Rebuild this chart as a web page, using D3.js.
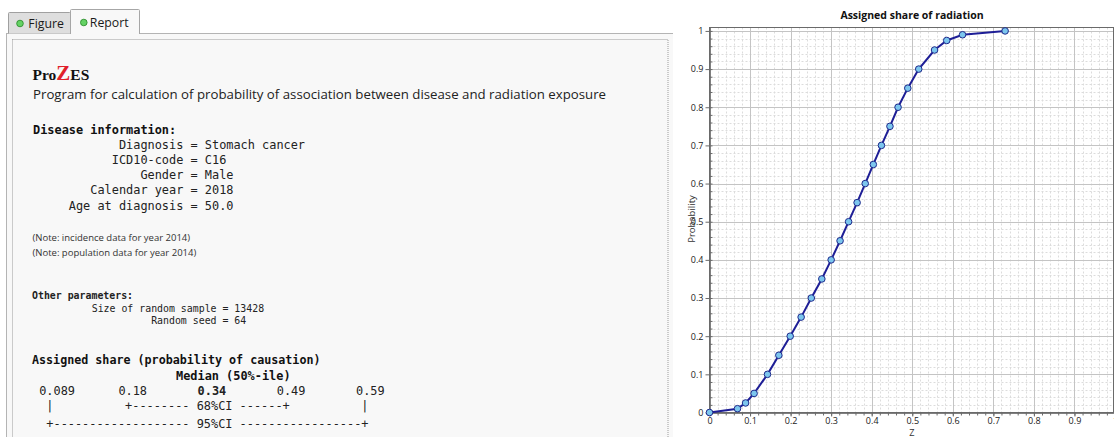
<!DOCTYPE html>
<html>
<head>
<meta charset="utf-8">
<script src="https://cdn.jsdelivr.net/npm/d3@7"></script>
<style>
html, body { margin: 0; padding: 0; background: #fff; overflow: hidden; }
svg { display: block; }
text { white-space: pre; }
</style>
</head>
<body>
<svg id="view" width="1114" height="437"></svg>
<script>
// ---- data ----
var tabNames = ["Figure", "Report"];

var diseaseFields = ["Diagnosis", "ICD10-code", "Gender", "Calendar year", "Age at diagnosis"];
var diseaseValues = ["Stomach cancer", "C16", "Male", "2018", "50.0"];
var notes = ["(Note: incidence data for year 2014)", "(Note: population data for year 2014)"];
var otherFields = ["Size of random sample", "Random seed"];
var otherValues = ["13428", "64"];

var shareLabels = ["0.089", "0.18", "0.34", "0.49", "0.59"];

// cumulative distribution of assigned share (Z)
var probLevels = [0, 0.01, 0.025, 0.05, 0.1, 0.15, 0.2, 0.25, 0.3, 0.35, 0.4, 0.45, 0.5,
                  0.55, 0.6, 0.65, 0.7, 0.75, 0.8, 0.85, 0.9, 0.95, 0.975, 0.99, 1.0];
var zValues = [0, 0.069, 0.089, 0.110, 0.143, 0.171, 0.199, 0.226, 0.251, 0.277, 0.300, 0.322, 0.343,
               0.364, 0.384, 0.404, 0.424, 0.445, 0.465, 0.489, 0.516, 0.555, 0.585, 0.624, 0.729];

var UI_FONT = "'Open Sans', 'Noto Sans', sans-serif";
var MONO = "'DejaVu Sans Mono', 'Liberation Mono', monospace";

var svg = d3.select("#view");

// ---- left: report panel ----
var panel = svg.append("g");

panel.append("rect")
	.attr("x", 6).attr("y", 33).attr("width", 667).attr("height", 410)
	.attr("fill", "#f8f8f8");
panel.append("line")
	.attr("x1", 6).attr("x2", 673).attr("y1", 33.5).attr("y2", 33.5)
	.attr("stroke", "#b4b4b4");
panel.append("line")
	.attr("x1", 6.5).attr("x2", 6.5).attr("y1", 33).attr("y2", 437)
	.attr("stroke", "#b4b4b4");
panel.append("rect")
	.attr("x", 12.5).attr("y", 39.5).attr("width", 655.5).attr("height", 420)
	.attr("fill", "none").attr("stroke", "#9c9c9c")
	.attr("stroke-dasharray", "1,1");

// tabs
var tabX = [8.5, 70.5], tabW = [62, 69];
tabNames.forEach(function (name, i) {
	var active = (name === "Report");
	var top = active ? 9.5 : 12.5;
	var g = svg.append("g");
	g.append("path")
		.attr("d", "M" + tabX[i] + "," + (active ? 34 : 33.5) + "V" + (top + 1) +
			"Q" + tabX[i] + "," + top + " " + (tabX[i] + 1) + "," + top +
			"H" + (tabX[i] + tabW[i] - 1) +
			"Q" + (tabX[i] + tabW[i]) + "," + top + " " + (tabX[i] + tabW[i]) + "," + (top + 1) +
			"V" + (active ? 34 : 33.5))
		.attr("fill", active ? "#f8f8f8" : "#dedede")
		.attr("stroke", active ? "#a6a6a6" : "#a0a0a0");
	g.append("circle")
		.attr("cx", tabX[i] + (active ? 13.3 : 11.5))
		.attr("cy", active ? 22.5 : 23.5)
		.attr("r", 3.3)
		.attr("fill", "#64d264").attr("stroke", "#2f8f2f").attr("stroke-width", 0.9);
	g.append("text")
		.attr("x", tabX[i] + (active ? 19.3 : 19.8))
		.attr("y", active ? 27 : 28.3)
		.attr("font-family", UI_FONT).attr("font-size", 12.3)
		.attr("fill", "#1a1a1a")
		.text(name);
});

// title block
var brand = panel.append("text")
	.attr("x", 32.5).attr("y", 80)
	.attr("font-family", "'Liberation Serif', 'DejaVu Serif', serif")
	.attr("font-weight", "bold").attr("font-size", 15.5).attr("fill", "#111");
brand.append("tspan").text("Pro");
brand.append("tspan").attr("fill", "#e0202a").attr("font-size", 21).text("Z");
brand.append("tspan").text("ES");

panel.append("text")
	.attr("x", 33).attr("y", 99)
	.attr("font-family", UI_FONT).attr("font-size", 13).attr("fill", "#222")
	.attr("textLength", 573).attr("lengthAdjust", "spacingAndGlyphs")
	.text("Program for calculation of probability of association between disease and radiation exposure");

// disease information
panel.append("text")
	.attr("x", 33).attr("y", 134)
	.attr("font-family", MONO).attr("font-size", 11.9).attr("font-weight", "bold").attr("fill", "#111")
	.text("Disease information:");

panel.selectAll("text.dis")
	.data(diseaseFields)
	.enter().append("text")
	.attr("class", "dis")
	.attr("x", 33)
	.attr("y", function (d, i) { return 148.5 + i * 15.3; })
	.attr("font-family", MONO).attr("font-size", 11.9).attr("fill", "#222")
	.text(function (d, i) { return d.padStart(21) + " = " + diseaseValues[i]; });

panel.selectAll("text.note")
	.data(notes)
	.enter().append("text")
	.attr("class", "note")
	.attr("x", 32.5)
	.attr("y", function (d, i) { return 240.5 + i * 15; })
	.attr("font-family", UI_FONT).attr("font-size", 9.5).attr("fill", "#333")
	.text(function (d) { return d; });

// other parameters
panel.append("text")
	.attr("x", 32).attr("y", 299)
	.attr("font-family", MONO).attr("font-size", 9.9).attr("font-weight", "bold").attr("fill", "#222")
	.text("Other parameters:");

panel.selectAll("text.oth")
	.data(otherFields)
	.enter().append("text")
	.attr("class", "oth")
	.attr("x", 91.7)
	.attr("y", function (d, i) { return 312 + i * 12.3; })
	.attr("font-family", MONO).attr("font-size", 9.9).attr("fill", "#222")
	.text(function (d, i) { return d.padStart(21) + " = " + otherValues[i]; });

// assigned share summary
panel.append("text")
	.attr("x", 32).attr("y", 364)
	.attr("font-family", MONO).attr("font-size", 11.7).attr("font-weight", "bold").attr("fill", "#111")
	.text("Assigned share (probability of causation)");
panel.append("text")
	.attr("x", 176).attr("y", 380)
	.attr("font-family", MONO).attr("font-size", 11.9).attr("font-weight", "bold").attr("fill", "#111")
	.text("Median (50%-ile)");

var CH = 7.2, X0 = 32;
var shareCols = [1, 12, 23, 34, 45];
panel.selectAll("text.share")
	.data(shareLabels)
	.enter().append("text")
	.attr("class", "share")
	.attr("x", function (d, i) { return X0 + shareCols[i] * CH; })
	.attr("y", 394.5)
	.attr("font-family", MONO).attr("font-size", 11.9)
	.attr("font-weight", function (d, i) { return i === 2 ? "bold" : "normal"; })
	.attr("fill", "#222")
	.text(function (d) { return d; });

var ciRows = [
	"  |          +-------- 68%CI ------+          |",
	"  +------------------- 95%CI -----------------+"
];
panel.selectAll("text.ci")
	.data(ciRows)
	.enter().append("text")
	.attr("class", "ci")
	.attr("x", X0)
	.attr("y", function (d, i) { return 410 + i * 18; })
	.attr("xml:space", "preserve")
	.attr("opacity", 0.999)
	.attr("font-family", MONO).attr("font-size", 11.9).attr("fill", "#222")
	.text(function (d) { return d; });

// ---- right: chart ----
var plotL = 709.5, plotR = 1113.5, plotT = 27.5, plotB = 412.5;

var x = d3.scaleLinear().domain([0, 1]).range([plotL, 1115]);
var y = d3.scaleLinear().domain([0, 1.009]).range([plotB, plotT]);

var chart = svg.append("g");

chart.append("rect")
	.attr("x", plotL).attr("y", plotT)
	.attr("width", plotR - plotL).attr("height", plotB - plotT)
	.attr("fill", "#fff");

var minorX = x.ticks(50), minorY = y.ticks(50);
var majorX = x.ticks(10), majorY = d3.range(0, 11).map(function (d) { return d / 10; });

chart.selectAll("line.mgx")
	.data(minorX)
	.enter().append("line")
	.attr("x1", function (d) { return Math.round(x(d)) + 0.5; })
	.attr("x2", function (d) { return Math.round(x(d)) + 0.5; })
	.attr("y1", plotT).attr("y2", plotB)
	.attr("stroke", "#dcdcdc").attr("stroke-dasharray", "2,2");
chart.selectAll("line.mgy")
	.data(minorY)
	.enter().append("line")
	.attr("y1", function (d) { return Math.round(y(d)) + 0.5; })
	.attr("y2", function (d) { return Math.round(y(d)) + 0.5; })
	.attr("x1", plotL).attr("x2", plotR)
	.attr("stroke", "#dcdcdc").attr("stroke-dasharray", "2,2");

chart.selectAll("line.gx")
	.data(majorX)
	.enter().append("line")
	.attr("x1", function (d) { return Math.round(x(d)) + 0.5; })
	.attr("x2", function (d) { return Math.round(x(d)) + 0.5; })
	.attr("y1", plotT).attr("y2", plotB)
	.attr("stroke", "#c4c4c4");
chart.selectAll("line.gy")
	.data(majorY)
	.enter().append("line")
	.attr("y1", function (d) { return Math.round(y(d)) + 0.5; })
	.attr("y2", function (d) { return Math.round(y(d)) + 0.5; })
	.attr("x1", plotL).attr("x2", plotR)
	.attr("stroke", "#c4c4c4");

// frame
chart.append("rect")
	.attr("x", plotL).attr("y", plotT)
	.attr("width", plotR - plotL).attr("height", plotB - plotT)
	.attr("fill", "none").attr("stroke", "#6a6a6a");

// axes
var fmt = d3.format("~g");

var yAxis = chart.append("g")
	.attr("transform", "translate(" + plotL + ",0)")
	.call(d3.axisLeft(y).tickValues(majorY).tickFormat(fmt).tickSizeInner(4).tickSizeOuter(0).tickPadding(2));
var yMinor = chart.append("g")
	.attr("transform", "translate(" + plotL + ",0)")
	.call(d3.axisLeft(y).tickValues(minorY).tickFormat("").tickSizeInner(-3).tickSizeOuter(0));

var xAxis = chart.append("g")
	.attr("transform", "translate(0," + plotB + ")")
	.call(d3.axisBottom(x).tickValues(majorX).tickFormat(fmt).tickSizeInner(4).tickSizeOuter(0).tickPadding(1));
var xMinor = chart.append("g")
	.attr("transform", "translate(0," + plotB + ")")
	.call(d3.axisBottom(x).tickValues(minorX).tickFormat("").tickSizeInner(3).tickSizeOuter(0));

[yAxis, yMinor, xAxis, xMinor].forEach(function (a) {
	a.select(".domain").attr("stroke", "#6a6a6a");
	a.selectAll(".tick line").attr("stroke", "#6a6a6a");
	a.selectAll(".tick text")
		.attr("font-family", UI_FONT).attr("font-size", 9).attr("fill", "#222");
});

// titles
chart.append("text")
	.attr("x", 912).attr("y", 19)
	.attr("text-anchor", "middle")
	.attr("font-family", UI_FONT).attr("font-size", 10.5).attr("font-weight", "bold").attr("fill", "#111")
	.text("Assigned share of radiation");

chart.append("text")
	.attr("transform", "translate(695,219) rotate(-90)")
	.attr("text-anchor", "middle")
	.attr("font-family", UI_FONT).attr("font-size", 9.5).attr("fill", "#333")
	.text("Probability");

chart.append("text")
	.attr("x", 912).attr("y", 435.5)
	.attr("text-anchor", "middle")
	.attr("font-family", UI_FONT).attr("font-size", 9.2).attr("fill", "#333")
	.text("Z");

// curve
var pts = zValues.map(function (z, i) { return [z, probLevels[i]]; });

chart.append("path")
	.datum(pts)
	.attr("fill", "none")
	.attr("stroke", "#1e1e96")
	.attr("stroke-width", 2)
	.attr("d", d3.line()
		.x(function (d) { return x(d[0]); })
		.y(function (d) { return y(d[1]); }));

chart.selectAll("circle.pt")
	.data(pts)
	.enter().append("circle")
	.attr("class", "pt")
	.attr("cx", function (d) { return x(d[0]); })
	.attr("cy", function (d) { return y(d[1]); })
	.attr("r", 3.3)
	.attr("fill", "#7cc6ee")
	.attr("stroke", "#1e2a8c")
	.attr("stroke-width", 1);
</script>
</body>
</html>
